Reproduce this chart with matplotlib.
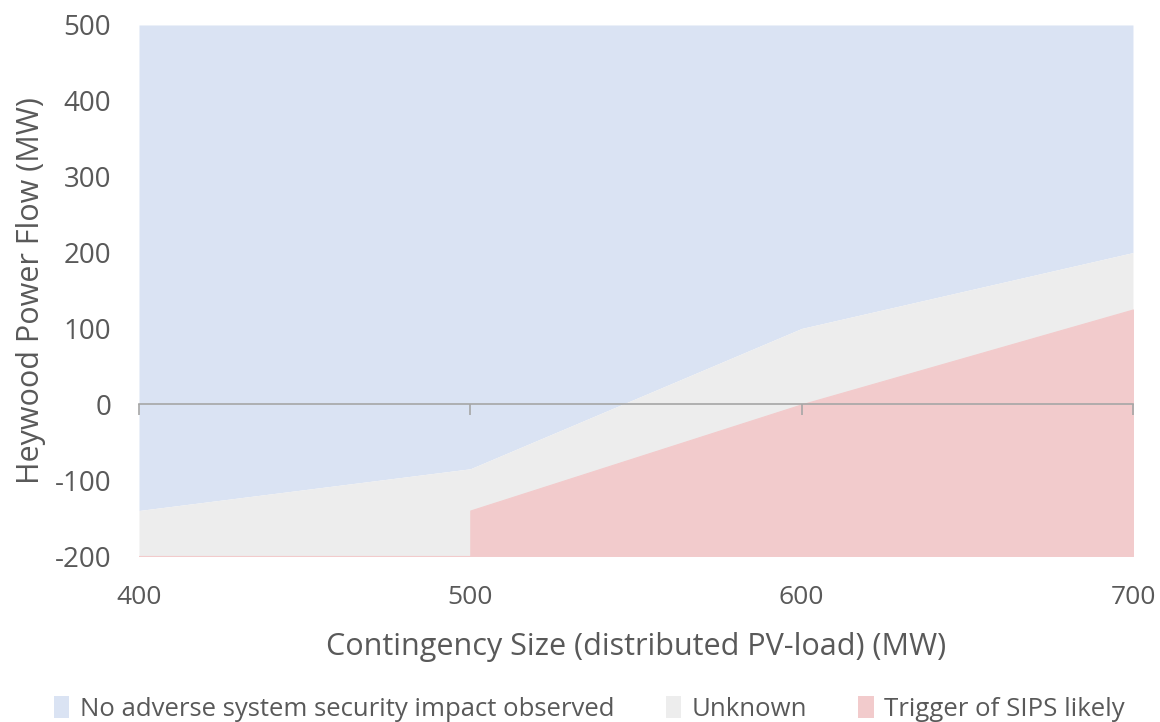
import matplotlib
matplotlib.use("Agg")
import matplotlib.pyplot as plt
from matplotlib.patches import Patch

# Data
x_mw = [400, 500, 500, 600, 700]
red_top = [-200, -200, -140, 0, 125]       # Trigger of SIPS likely (upper boundary)
gray_top = [-140, -85, -85, 100, 200]      # Unknown (upper boundary)
blue_top = [500, 500, 500, 500, 500]       # No adverse impact (upper boundary)
y_floor = -200
series_names = ["No adverse system security impact observed", "Unknown", "Trigger of SIPS likely"]
x_ticks = [400, 500, 600, 700]
y_ticks = [-200, -100, 0, 100, 200, 300, 400, 500]

c_blue = "#dae3f3"
c_gray = "#ededed"
c_red = "#f2cbcc"
txt = "#595959"
axc = "#a6a6a6"

plt.rcParams['font.family'] = ['Open Sans', 'DejaVu Sans']
plt.rcParams['axes.unicode_minus'] = False

fig = plt.figure(figsize=(11.6, 7.22), dpi=100)
ax = fig.add_axes([0.1198, 0.2299, 0.9767 - 0.1198, 0.9654 - 0.2299])

ax.fill_between(x_mw, gray_top, blue_top, color=c_blue, lw=0)
ax.fill_between(x_mw, red_top, gray_top, color=c_gray, lw=0)
ax.fill_between(x_mw, [y_floor] * len(x_mw), red_top, color=c_red, lw=0.8, edgecolor=c_red)

ax.set_xlim(400, 700)
ax.set_ylim(-200, 500)
ax.set_yticks(y_ticks)
ax.set_xticks(x_ticks)

for s in ['top', 'right', 'left']:
    ax.spines[s].set_visible(False)
ax.spines['bottom'].set_position(('data', 0))
ax.spines['bottom'].set_color(axc)
ax.spines['bottom'].set_linewidth(1.2)
ax.tick_params(axis='x', direction='out', length=8, width=1.2, color=axc, labelbottom=False)
ax.tick_params(axis='y', length=0, labelsize=20, labelcolor=txt, pad=20)

sec = ax.secondary_xaxis(location=0)
sec.set_xticks(x_ticks)
sec.spines['bottom'].set_visible(False)
sec.tick_params(axis='x', length=0, labelsize=19, labelcolor=txt, pad=21)
sec.set_xlabel("Contingency Size (distributed PV-load) (MW)", fontsize=22, color=txt, labelpad=16)

ax.set_ylabel("Heywood Power Flow (MW)", fontsize=22, color=txt, labelpad=6)

handles = [Patch(facecolor=c_blue, edgecolor='none'),
           Patch(facecolor=c_gray, edgecolor='none'),
           Patch(facecolor=c_red, edgecolor='none')]
fig.legend(handles, series_names, loc='lower center', bbox_to_anchor=(0.508, -0.032), ncol=3,
           frameon=False, fontsize=18.5, labelcolor=txt, handlelength=0.6, handleheight=0.9,
           handletextpad=0.4, columnspacing=2.0)

fig.savefig("out.png", dpi=100)
